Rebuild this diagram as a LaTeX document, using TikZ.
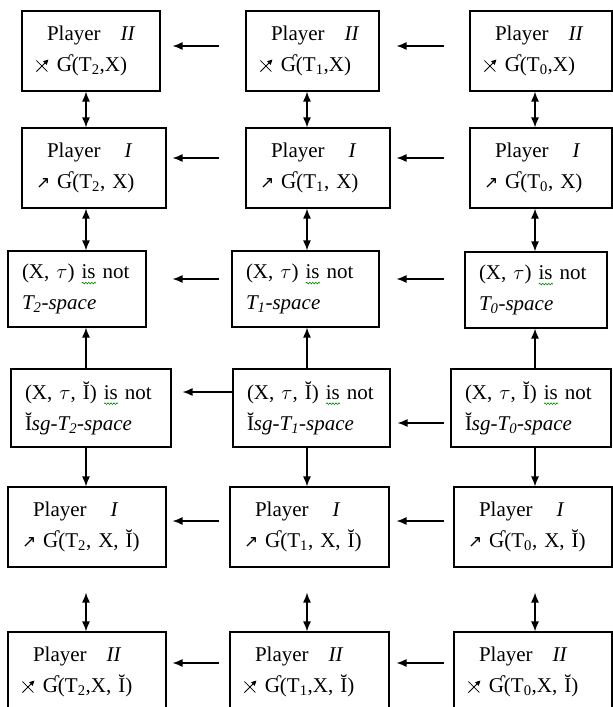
\documentclass[tikz,border=0pt]{standalone}
\usepackage{fontspec}
\setmainfont{Liberation Serif}
\newfontfamily\symfont{DejaVu Sans}
\usepackage{tikz}
\usetikzlibrary{positioning}
\usetikzlibrary{arrows.meta}
\usetikzlibrary{decorations.pathmorphing}
\tikzstyle{box}=[draw, line width=1.1pt, minimum height=80pt, inner xsep=14pt, inner ysep=0pt, align=left, font=\fontsize{21}{31}\selectfont]
\tikzstyle{edge} = [draw, line width=1.3pt, -{Latex[length=10pt,width=8pt]}]
\tikzstyle{bothedge} = [draw, line width=1.3pt, {Latex[length=10pt,width=8pt]}-{Latex[length=10pt,width=8pt]}]
\tikzstyle{spelling} = [draw=green!55!black, line width=0.6pt, decorate, decoration={snake, amplitude=0.9pt, segment length=3pt}]

\newcommand{\spellis}{\setbox0\hbox{is}\rlap{\tikz[baseline=0pt]\path[spelling] (0pt,-4.5pt) -- (\wd0,-4.5pt);}is}
\newcommand{\crossarrow}{\tikz[baseline=0pt]{\path[draw, line width=0.8pt] (0pt,11pt) -- (11pt,0pt); \path[draw, line width=0.8pt, -{Triangle[length=5pt,width=5pt]}] (0pt,0pt) -- (12pt,12pt);}}
\newcommand{\plI}[1]{\hspace*{11pt}Player\hspace{24pt}\textit{I}\\{\symfont\fontsize{17}{17}\selectfont ↗}\hspace{7pt}Ɠ(#1)}
\newcommand{\plII}[1]{\hspace*{11pt}Player\hspace{20pt}\textit{II}\\\crossarrow\hspace{8pt}Ɠ(#1)}

\begin{document}
\begin{tikzpicture}[x=1pt, y=-1pt]
\clip (0,0) rectangle (613,707);

%games on (X, tau)
  \foreach \pos/\name/\tw/\k in {{(91,51)/L1/110/2}, {(312.5,51)/M1/105/1}, {(541,51)/R1/114/0}}
        \node[box, text width=\tw pt] (\name) at \pos {\plII{T\textsubscript{\k},X}};
  \foreach \pos/\name/\tw/\k in {{(94,168)/L2/116/2}, {(318,168)/M2/116/1}, {(541,168)/R2/114/0}}
        \node[box, text width=\tw pt] (\name) at \pos {\plI{T\textsubscript{\k}, X}};

%spaces
  \foreach \pos/\name/\tw/\k in {{(77,289)/L3/110/2}, {(305.5,289)/M3/119/1}, {(536,290)/R3/114/0}}
        \node[box, text width=\tw pt, minimum height=76pt] (\name) at \pos {(X, $\tau$) \spellis{} not\\\textit{T\textsubscript{\k}-space}};
  \foreach \pos/\name/\tw/\k in {{(91,408)/L4/132/2}, {(311.5,408)/M4/129/1}, {(531,408)/R4/132/0}}
        \node[box, text width=\tw pt, minimum height=78pt] (\name) at \pos {(X, $\tau$, Ĭ) \spellis{} not\\Ĭ\textit{sg-T\textsubscript{\k}-space}};

%games on (X, tau, I)
  \foreach \pos/\name/\tw/\k in {{(87,527)/L5/130/2}, {(309.5,527)/M5/131/1}, {(533,527)/R5/130/0}}
        \node[box, text width=\tw pt] (\name) at \pos {\plI{T\textsubscript{\k}, X, Ĭ}};
  \foreach \pos/\name/\tw/\k in {{(87,672)/L6/130/2}, {(309.5,672)/M6/131/1}, {(533,672)/R6/130/0}}
        \node[box, text width=\tw pt] (\name) at \pos {\plII{T\textsubscript{\k},X, Ĭ}};

    \coordinate (xL) at (86,0);
    \coordinate (xM) at (307,0);
    \coordinate (xR) at (535,0);

    % implications between columns
   \foreach \source/\dest/\y/\sa/\sb in {M1/L1/46/26/12, M2/L2/158/26/6, M3/L3/279/12/26, M4/L4/392/0/11, M5/L5/521/10/6, M6/L6/663/10/6,
            R1/M1/46/25/17, R2/M2/158/25/6, R3/M3/279/20/17, R4/M4/423/6/7, R5/M5/521/9/7, R6/M6/663/9/7}
          \path[edge, shorten <=\sa pt, shorten >=\sb pt] (\source.west |- 0,\y) -- (\dest.east |- 0,\y);

    % implications inside a column
   \foreach \c in {L, M, R} {
          \path[bothedge] (\c1.south -| x\c) -- (\c2.north -| x\c);
          \path[bothedge] (\c2.south -| x\c) -- (\c3.north -| x\c);
          \path[edge] (\c4.north -| x\c) -- (\c3.south -| x\c);
          \path[edge] (\c4.south -| x\c) -- (\c5.north -| x\c);
          \path[bothedge, shorten <=25pt] (\c5.south -| x\c) -- (\c6.north -| x\c);
   }

\end{tikzpicture}
\end{document}
